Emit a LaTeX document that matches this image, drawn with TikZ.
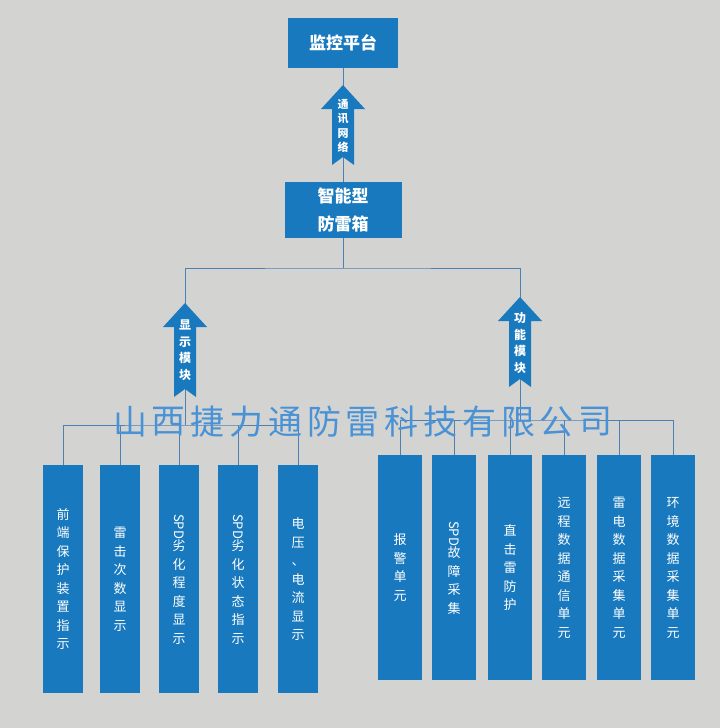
\documentclass[tikz,border=0pt]{standalone}
\usepackage{fontspec}
\usepackage{graphicx}
\newfontfamily\cjk{Noto Sans CJK SC}
\usetikzlibrary{positioning}

\definecolor{bgpaper}{RGB}{211,212,209}
\definecolor{boxblue}{RGB}{24,121,190}
\definecolor{linkblue}{RGB}{78,128,178}
\definecolor{wmblue}{RGB}{74,146,214}

\tikzset{
  topbox/.style={fill=boxblue, text=white, font=\cjk\bfseries\fontsize{17}{28}\selectfont, align=center, inner sep=0pt},
  item/.style={fill=boxblue, text=white, font=\cjk\fontsize{13}{18.5}\selectfont, align=center, anchor=north, inner sep=0pt, minimum width=40, minimum height=228},
  ritem/.style={item, minimum width=44, minimum height=225},
  modtext/.style={text=white, font=\cjk\bfseries\fontsize{12}{16.5}\selectfont, align=center, inner sep=0pt},
  link/.style={draw=linkblue, line width=0.9pt},
  wm/.style={text=wmblue, font=\cjk\fontsize{34}{34}\selectfont, inner sep=0pt},
  pics/uparrow/.style={code={
    \fill[boxblue] (0,0) -- (22,24) -- (11,24) -- (11,#1) -- (0,#1-8) -- (-11,#1) -- (-11,24) -- (-22,24) -- cycle;
  }}
}

\begin{document}
\begin{tikzpicture}[x=1pt, y=-1pt]

  \fill[bgpaper] (0,0) rectangle (720,728);

  \node[topbox, minimum width=110, minimum height=50] (platform) at (343,43) {监控平台};
  \node[topbox, minimum width=117, minimum height=56] (box) at (343,210) {智能型\\防雷箱};

  \coordinate (split) at (343,268);
  \coordinate (dispbar) at (185,425);
  \coordinate (funcbar) at (520,420);

  \node[item] (d1) at (63,465) {前\\端\\保\\护\\装\\置\\指\\示};
  \node[item] (d2) at (120,465) {雷\\击\\次\\数\\显\\示};
  \node[item] (d3) at (179,465) {\rotatebox{-90}{SPD}\\劣\\化\\程\\度\\显\\示};
  \node[item] (d4) at (238,465) {\rotatebox{-90}{SPD}\\劣\\化\\状\\态\\指\\示};
  \node[item] (d5) at (298,465) {电\\压\\、\\电\\流\\显\\示};

  \node[ritem] (f1) at (400,455) {报\\警\\单\\元};
  \node[ritem] (f2) at (454,455) {\rotatebox{-90}{SPD}\\故\\障\\采\\集};
  \node[ritem] (f3) at (510,455) {直\\击\\雷\\防\\护};
  \node[ritem] (f4) at (564,455) {远\\程\\数\\据\\通\\信\\单\\元};
  \node[ritem] (f5) at (619,455) {雷\\电\\数\\据\\采\\集\\单\\元};
  \node[ritem] (f6) at (673,455) {环\\境\\数\\据\\采\\集\\单\\元};

  \draw[link] (platform.south) -- (box.north);
  \draw[link] (box.south) -- (split);
  \draw[link] (dispbar) |- (split) -| (funcbar);

  \draw[link] (d1.north) |- (dispbar) -| (d5.north);
  \foreach \i in {2,3,4}
    \draw[link] (d\i.north) -- (d\i.north |- dispbar);

  \draw[link] (f1.north) |- (funcbar) -| (f6.north);
  \foreach \i in {2,...,5}
    \draw[link] (f\i.north) -- (f\i.north |- funcbar);

  \pic at (343,85) {uparrow=80};
  \pic at (185,303) {uparrow=94};
  \pic at (520,297) {uparrow=90};

  \node[modtext, font=\cjk\bfseries\fontsize{11}{14.5}\selectfont] (net) at (343,126) {通\\讯\\网\\络};
  \node[modtext] (disp) at (185,350) {显\\示\\模\\块};
  \node[modtext] (func) at (520,343) {功\\能\\模\\块};

  \foreach \c [count=\i from 0] in {山,西,捷,力,通,防,雷,科,技,有,限,公,司}
    \node[wm] (wm\i) at (130+38.8*\i,422) {\c};

\end{tikzpicture}
\end{document}
